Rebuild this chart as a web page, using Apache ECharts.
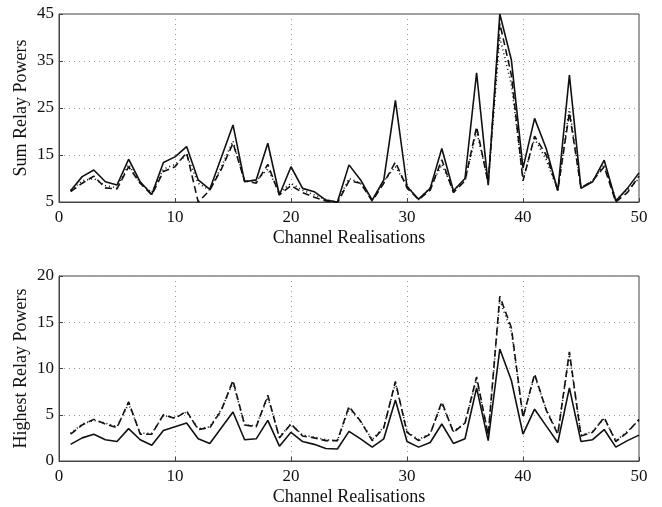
<!DOCTYPE html>
<html>
<head>
<meta charset="utf-8">
<script src="https://cdn.jsdelivr.net/npm/echarts@6/dist/echarts.min.js"></script>
<style>
  html, body { margin: 0; padding: 0; background: #fff; }
  #main { width: 662px; height: 507px; }
</style>
</head>
<body>
<div id="main"></div>
<script>
// channel index 1..50
var channels = [];
for (var i = 1; i <= 50; i++) channels.push(i);

// top panel: sum relay powers
var sumSolid = [7.4,10.4,11.8,9.3,8.6,14.1,9.3,6.6,13.4,14.6,16.8,9.7,7.7,14.5,21.4,9.3,9.7,17.5,6.5,12.5,
  7.9,7.2,5.4,5.0,12.9,9.7,5.4,9.7,26.6,8.3,5.6,7.9,16.4,7.4,10.0,32.5,8.6,45,35.2,12.2,
  22.8,16.4,7.4,32.0,7.9,9.3,13.9,5.2,7.9,11.2];
var sumDashed = [7.2,9.0,10.5,8.0,7.8,12.5,9.0,6.5,11.5,12.5,15.5,5.0,7.5,12.0,17.5,9.5,9.0,13.0,6.5,8.5,
  7.0,6.0,5.2,4.8,9.5,9.0,5.2,9.0,13.5,8.0,5.5,7.5,14.0,7.0,9.5,21.0,9.0,43,32,9.5,
  19,15,7.5,24,8.0,9.5,12.5,5.0,7.0,10.5];
var sumDotted = [7.5,9.5,10.0,8.5,8.0,13,9.0,7.0,12,13,15,9.0,7.5,12.5,18,9.5,9.5,12,7.0,9,
  7.5,6.5,5.5,5.0,10,9,5.5,9.5,12.5,8.5,5.5,8,13,7.5,9.5,20,9.5,40,30,10,
  18.5,14,7.5,25,8,9.5,13,5.5,7.5,10];

// bottom panel: highest relay powers
var highSolid = [1.8,2.5,2.9,2.3,2.1,3.5,2.3,1.7,3.3,3.7,4.1,2.4,1.9,3.6,5.3,2.3,2.4,4.4,1.6,3.1,
  2.1,1.8,1.35,1.3,3.2,2.4,1.5,2.4,6.6,2.1,1.5,2.0,4.0,1.9,2.4,7.9,2.2,12.1,8.7,2.9,
  5.6,3.8,2.0,7.9,2.1,2.3,3.4,1.5,2.2,2.8];
var highDashed = [2.9,3.9,4.5,4.0,3.6,6.4,2.9,2.9,5.0,4.6,5.4,3.4,3.6,5.5,8.7,3.9,3.7,7.1,2.5,4.0,
  2.7,2.5,2.2,2.2,5.9,4.3,2.2,3.6,8.6,3.1,2.2,2.9,6.4,3.1,4.1,9.1,2.8,17.8,14.4,4.7,
  9.4,5.5,2.9,11.8,2.7,3.1,4.7,2.1,3.1,4.5];
var highDotted = [3.0,4.0,4.4,4.1,3.7,6.2,3.0,3.0,4.9,4.7,5.3,3.5,3.7,5.6,8.5,3.9,3.8,6.9,2.6,4.0,
  2.8,2.6,2.3,2.2,5.7,4.3,2.3,3.7,8.4,3.2,2.3,3.0,6.2,3.2,4.1,8.9,2.9,17.4,14.0,4.8,
  9.2,5.6,3.0,11.5,2.8,3.2,4.6,2.2,3.2,4.4];

var xTicks = [0, 10, 20, 30, 40, 50];

function pairs(ys) {
  return channels.map(function (x, k) { return [x, ys[k]]; });
}

var font = 'Liberation Serif';
var tickText = { color: '#111', fontFamily: font, fontSize: 17 };
var nameText = { color: '#111', fontFamily: font, fontSize: 18 };

function xAxisFor(idx) {
  return {
    type: 'value', gridIndex: idx, min: xTicks[0], max: xTicks[xTicks.length - 1], interval: 10,
    name: 'Channel Realisations', nameLocation: 'middle', nameGap: 27, nameMoveOverlap: false,
    nameTextStyle: nameText,
    axisLine: { onZero: false, lineStyle: { color: '#444', width: 1 } },
    axisTick: { inside: true, length: 4, lineStyle: { color: '#444' } },
    axisLabel: Object.assign({ margin: 7 }, tickText),
    splitLine: { show: true, lineStyle: { color: '#999', type: [1, 4], width: 1 } }
  };
}
function yAxisFor(idx, name, min, max, step) {
  return {
    type: 'value', gridIndex: idx, min: min, max: max, interval: step,
    name: name, nameLocation: 'middle', nameGap: 29, nameMoveOverlap: false,
    nameTextStyle: nameText,
    axisLine: { lineStyle: { color: '#444', width: 1 } },
    axisTick: { inside: true, length: 4, lineStyle: { color: '#444' } },
    axisLabel: Object.assign({ margin: 5 }, tickText),
    splitLine: { show: true, lineStyle: { color: '#999', type: [1, 4], width: 1 } }
  };
}
function line(idx, ys, dash) {
  return {
    type: 'line', xAxisIndex: idx, yAxisIndex: idx, data: pairs(ys),
    symbol: 'none', clip: true,
    lineStyle: { color: '#111', width: 1.6, type: dash },
    animation: false
  };
}

var chart = echarts.init(document.getElementById('main'), null, { renderer: 'canvas' });
chart.setOption({
  backgroundColor: '#fff',
  grid: [
    { left: 59, right: 23, top: 14, height: 188, show: true, borderColor: '#444', borderWidth: 1 },
    { left: 59, right: 23, top: 276, height: 188, show: true, borderColor: '#444', borderWidth: 1 }
  ],
  xAxis: [xAxisFor(0), xAxisFor(1)],
  yAxis: [
    yAxisFor(0, 'Sum Relay Powers', 5, 45, 10),
    yAxisFor(1, 'Highest Relay Powers', 0, 20, 5)
  ],
  series: [
    line(0, sumDotted, [1, 3]),
    line(0, sumDashed, [7, 4]),
    line(0, sumSolid, 'solid'),
    line(1, highDotted, [1, 3]),
    line(1, highDashed, [7, 4]),
    line(1, highSolid, 'solid')
  ]
});
</script>
</body>
</html>
